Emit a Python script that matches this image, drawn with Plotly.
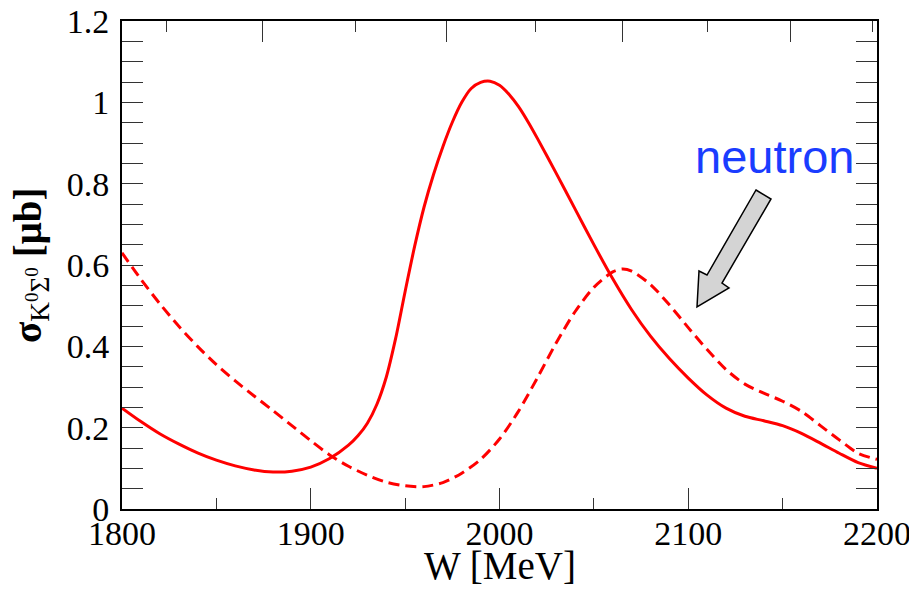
import plotly.graph_objects as go

# ---------------- data ----------------
W_full = [1800, 1810, 1820, 1830, 1840, 1850, 1860, 1870, 1880, 1890, 1900, 1910,
          1920, 1925, 1930, 1935, 1940, 1945, 1950, 1955, 1960, 1965, 1970, 1975,
          1980, 1985, 1990, 1995, 2000, 2005, 2010, 2015, 2020, 2030, 2040, 2050,
          2060, 2070, 2080, 2090, 2100, 2110, 2120, 2130, 2140, 2150, 2160, 2170,
          2180, 2190, 2200]
sigma_full = [0.248, 0.215, 0.185, 0.160, 0.138, 0.120, 0.106, 0.096, 0.091, 0.093,
              0.103, 0.124, 0.157, 0.180, 0.211, 0.257, 0.324, 0.420, 0.535, 0.645,
              0.742, 0.822, 0.891, 0.951, 1.000, 1.034, 1.049, 1.052, 1.042, 1.020,
              0.990, 0.953, 0.912, 0.826, 0.738, 0.650, 0.566, 0.490, 0.425, 0.370,
              0.322, 0.280, 0.248, 0.228, 0.217, 0.205, 0.186, 0.162, 0.137, 0.114,
              0.100]

W_dash = [1800, 1810, 1820, 1830, 1840, 1850, 1860, 1870, 1880, 1890, 1900, 1910,
          1920, 1930, 1940, 1950, 1960, 1970, 1980, 1990, 2000, 2010, 2020, 2030,
          2040, 2050, 2060, 2065, 2070, 2080, 2090, 2100, 2110, 2120, 2130, 2140,
          2150, 2160, 2170, 2180, 2190, 2200]
sigma_dash = [0.630, 0.565, 0.505, 0.450, 0.400, 0.355, 0.315, 0.278, 0.242, 0.205,
              0.168, 0.133, 0.105, 0.083, 0.066, 0.057, 0.055, 0.065, 0.088, 0.122,
              0.172, 0.240, 0.322, 0.408, 0.485, 0.545, 0.583, 0.590, 0.585, 0.552,
              0.502, 0.446, 0.392, 0.343, 0.307, 0.285, 0.265, 0.240, 0.205, 0.170,
              0.137, 0.122]

x_ticks = [1800, 1900, 2000, 2100, 2200]
x_minor = [1850, 1950, 2050, 2150]
y_ticks = [0, 0.2, 0.4, 0.6, 0.8, 1.0, 1.2]
y_tick_labels = ["0", "0.2", "0.4", "0.6", "0.8", "1", "1.2"]
Egamma_major = [1400, 1600, 1800, 2000]
Egamma_minor = [1300, 1500, 1700, 1900, 2100]
m_N = 939.57

def W_of_E(E):
    return (m_N ** 2 + 2 * m_N * E) ** 0.5

# ---------------- layout geometry ----------------
# page body adds an 8px offset; target plot area on screen: x 122..877, y 21..509
OFF = 8
FW, FH = 917, 592
L, R, T, B = 122 - OFF, FW - (877 - OFF), 21 - OFF, FH - (509 - OFF)
XR = [1800, 2200]
YR = [0, 1.2]

def px2x(px):  # screen pixel -> data
    return XR[0] + (px - OFF - L) * (XR[1] - XR[0]) / (FW - L - R)

def py2y(py):
    return YR[0] + (FH - B - (py - OFF)) * (YR[1] - YR[0]) / (FH - T - B)

def xpaper(px):
    return (px2x(px) - XR[0]) / (XR[1] - XR[0])

def ypaper(py):
    return (py2y(py) - YR[0]) / (YR[1] - YR[0])

serif = "Liberation Serif, Times New Roman, serif"

fig = go.Figure()
fig.add_trace(go.Scatter(x=W_full, y=sigma_full, mode="lines",
                         line=dict(color="#ff0000", width=3, shape="spline", smoothing=0.8),
                         showlegend=False))
fig.add_trace(go.Scatter(x=W_dash, y=sigma_dash, mode="lines",
                         line=dict(color="#ff0000", width=3, dash="11px,6px", shape="spline", smoothing=0.8),
                         showlegend=False))
# invisible trace to activate the top axis
fig.add_trace(go.Scatter(x=XR, y=YR, xaxis="x2", mode="lines",
                         line=dict(width=0), hoverinfo="skip", showlegend=False))

fig.update_layout(
    width=FW, height=FH,
    margin=dict(l=L, r=R, t=T, b=B, pad=0, autoexpand=False),
    paper_bgcolor="white", plot_bgcolor="white",
    xaxis=dict(range=XR, tickvals=x_ticks, ticktext=[str(v) for v in x_ticks],
               ticks="inside", ticklen=21, tickwidth=1.2, tickcolor="#333",
               minor=dict(tickvals=x_minor, ticks="inside", ticklen=11, tickwidth=1.2, tickcolor="#333"),
               showline=True, linecolor="black", linewidth=2, mirror=True,
               showgrid=False, zeroline=False, automargin=False,
               tickfont=dict(family=serif, size=34, color="black"),
               ticklabelstandoff=-7, ticklabeloverflow="allow"),
    xaxis2=dict(range=XR, overlaying="x", side="top",
                tickvals=[W_of_E(e) for e in Egamma_major], showticklabels=False,
                ticks="inside", ticklen=21, tickwidth=1.2, tickcolor="#333",
                minor=dict(tickvals=[W_of_E(e) for e in Egamma_minor], ticks="inside",
                           ticklen=11, tickwidth=1.2, tickcolor="#333"),
                showline=False, showgrid=False, zeroline=False, automargin=False),
    yaxis=dict(range=YR, tickvals=y_ticks, ticktext=y_tick_labels,
               ticks="inside", ticklen=21, tickwidth=1.2, tickcolor="#333",
               minor=dict(dtick=0.05, ticks="inside", ticklen=11, tickwidth=1.2, tickcolor="#333"),
               showline=True, linecolor="black", linewidth=2, mirror="allticks",
               showgrid=False, zeroline=False, automargin=False,
               tickfont=dict(family=serif, size=34, color="black"),
               ticklabelstandoff=4, ticklabeloverflow="allow"),
)

# axis titles
fig.add_annotation(text="W [MeV]", xref="paper", yref="paper", x=0.5, y=ypaper(565),
                   xanchor="center", yanchor="middle", showarrow=False,
                   font=dict(family=serif, size=39, color="black"))
fig.add_annotation(text="<b>σ</b><sub>K<sup>0</sup>Σ<sup>0</sup></sub> <b>[μb]</b>",
                   xref="paper", yref="paper", x=xpaper(30), y=ypaper(266),
                   xanchor="center", yanchor="middle", textangle=-90, showarrow=False,
                   font=dict(family=serif, size=39, color="black"))

# "neutron" label
fig.add_annotation(text="neutron", x=px2x(774), y=py2y(156), xref="x", yref="y",
                   xanchor="center", yanchor="middle", showarrow=False,
                   font=dict(family="Liberation Sans, Arial, sans-serif", size=47, color="#1a3cff"))

# block arrow (screen pixel outline)
arrow_px = [(756, 190), (771, 199), (722, 283), (729, 288), (697, 307), (699, 271), (707, 275)]
path = "M " + " L ".join(f"{px2x(a)},{py2y(b)}" for a, b in arrow_px) + " Z"
fig.add_shape(type="path", path=path, xref="x", yref="y",
              fillcolor="#d4d4d4", line=dict(color="black", width=1.5))

fig.write_html("out.html")
